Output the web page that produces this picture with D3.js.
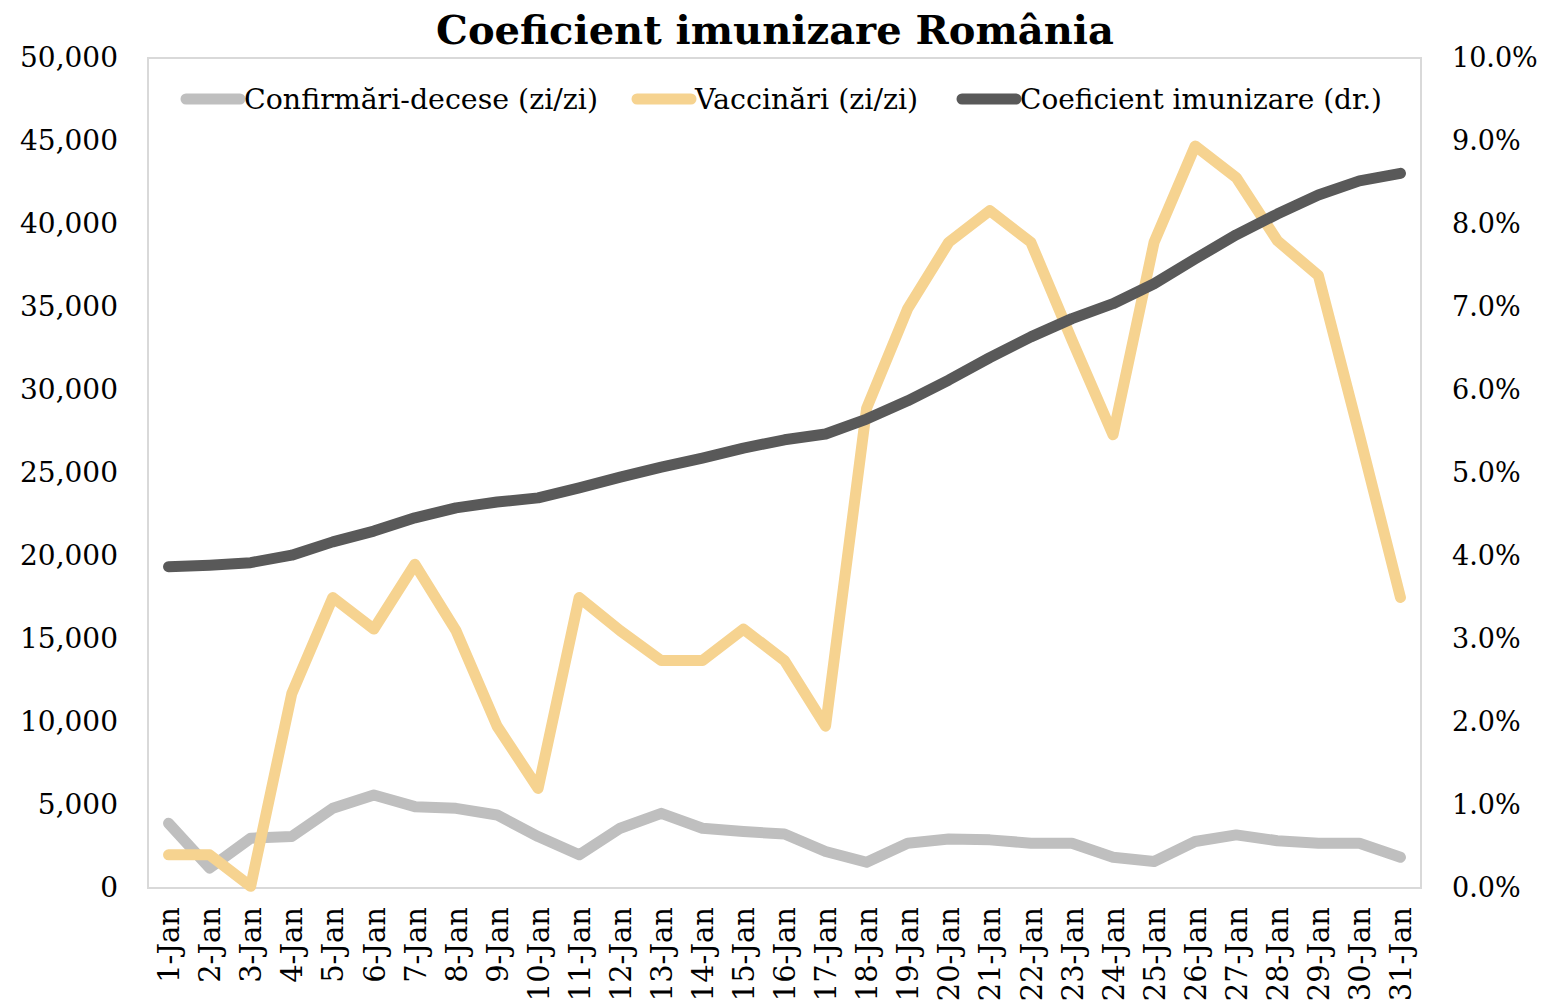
<!DOCTYPE html>
<html>
<head>
<meta charset="utf-8">
<script src="https://cdn.jsdelivr.net/npm/d3@7"></script>
<style>
  body { margin: 0; background: #fff; }
  svg text { font-family: "DejaVu Serif", "Liberation Serif", serif; fill: #000; }
</style>
</head>
<body>
<svg id="chart" width="1543" height="1003"></svg>
<script>
// categories
var days = [];
for (var d = 1; d <= 31; d++) days.push(d + "-Jan");

// series values
var confirmari = [3900, 1200, 3000, 3100, 4800, 5600, 4900, 4800, 4400, 3100,
                  2000, 3600, 4500, 3600, 3400, 3250, 2200, 1550, 2700, 2950,
                  2900, 2700, 2700, 1850, 1600, 2800, 3200, 2850, 2700, 2700, 1850];
var vaccinari = [2000, 2000, 100, 11700, 17500, 15600, 19500, 15500, 9750, 6000,
                 17500, 15500, 13700, 13700, 15600, 13700, 9750, 28900, 34900, 38900,
                 40800, 38900, 33000, 27300, 38900, 44700, 42800, 39000, 36900, 27300, 17500];
var coeficient = [0.0387, 0.0389, 0.0392, 0.0401, 0.0417, 0.0430, 0.0446, 0.0458, 0.0465, 0.0470,
                  0.0482, 0.0495, 0.0507, 0.0518, 0.0530, 0.0540, 0.0547, 0.0565, 0.0587, 0.0612,
                  0.0639, 0.0664, 0.0686, 0.0704, 0.0728, 0.0758, 0.0787, 0.0812, 0.0835, 0.0852, 0.0861];

// tick labels
var leftTicks = [0, 5000, 10000, 15000, 20000, 25000, 30000, 35000, 40000, 45000, 50000];
var rightTicks = [0, 0.01, 0.02, 0.03, 0.04, 0.05, 0.06, 0.07, 0.08, 0.09, 0.10];

var seriesNames = ["Confirmări-decese (zi/zi)", "Vaccinări (zi/zi)", "Coeficient imunizare (dr.)"];
var seriesColors = ["#bfbfbf", "#f6d390", "#595959"];

var margin = {left: 148, right: 122, top: 58, bottom: 115};
var W = 1543, H = 1003;
var innerW = W - margin.left - margin.right;
var innerH = H - margin.top - margin.bottom;

var svg = d3.select("#chart");

var x = d3.scalePoint().domain(days).range([0, innerW]).padding(0.5);
var yL = d3.scaleLinear().domain([0, 50000]).range([innerH, 0]);
var yR = d3.scaleLinear().domain([0, 0.10]).range([innerH, 0]);

var g = svg.append("g").attr("transform", "translate(" + margin.left + "," + margin.top + ")");

// plot border
g.append("rect")
  .attr("x", 0).attr("y", 0)
  .attr("width", innerW).attr("height", innerH)
  .attr("fill", "none").attr("stroke", "#d9d9d9").attr("stroke-width", 2);

// axes
var fmtL = d3.format(",");
var fmtR = d3.format(".1%");

var axL = g.append("g")
  .call(d3.axisLeft(yL).tickValues(leftTicks).tickFormat(fmtL).tickSize(0).tickPadding(30));
axL.select(".domain").remove();
axL.selectAll("text").style("font-size", "28px").attr("dy", "0.32em");

var axR = g.append("g").attr("transform", "translate(" + innerW + ",0)")
  .call(d3.axisRight(yR).tickValues(rightTicks).tickFormat(fmtR).tickSize(0).tickPadding(31));
axR.select(".domain").remove();
axR.selectAll("text").style("font-size", "27px").attr("dy", "0.32em");

var axB = g.append("g").attr("transform", "translate(0," + innerH + ")")
  .call(d3.axisBottom(x).tickSize(0).tickPadding(0));
axB.select(".domain").remove();
axB.selectAll("text")
  .style("font-size", "29px")
  .attr("text-anchor", "end")
  .attr("transform", "rotate(-90)")
  .attr("x", -19)
  .attr("y", 0)
  .attr("dy", "0.35em");

// lines
var lineL = d3.line().x(function(d, i) { return x(days[i]); }).y(function(d) { return yL(d); });
var lineR = d3.line().x(function(d, i) { return x(days[i]); }).y(function(d) { return yR(d); });

var allSeries = [
  {values: confirmari, gen: lineL, color: seriesColors[0]},
  {values: vaccinari, gen: lineL, color: seriesColors[1]},
  {values: coeficient, gen: lineR, color: seriesColors[2]}
];

g.selectAll("path.series")
  .data(allSeries)
  .enter()
  .append("path")
  .attr("class", "series")
  .attr("d", function(s) { return s.gen(s.values); })
  .attr("fill", "none")
  .attr("stroke", function(s) { return s.color; })
  .attr("stroke-width", 11)
  .attr("stroke-linejoin", "round")
  .attr("stroke-linecap", "round");

// legend
var legendX = [186, 637, 962];
var legendW = [354, 226, 362];
var leg = svg.append("g").attr("transform", "translate(0,99)");
var items = leg.selectAll("g").data(seriesNames).enter().append("g")
  .attr("transform", function(d, i) { return "translate(" + legendX[i] + ",0)"; });
items.append("line")
  .attr("x1", 0).attr("x2", 54).attr("y1", 0).attr("y2", 0)
  .attr("stroke", function(d, i) { return seriesColors[i]; })
  .attr("stroke-width", 11)
  .attr("stroke-linecap", "round");
items.append("text")
  .attr("x", 58).attr("y", 0).attr("dy", "0.35em")
  .style("font-size", "28.5px")
  .text(function(d) { return d; })
  .each(function(d, i) {
    // keep each entry within the width it has in the picture
    var len = this.getComputedTextLength();
    if (len > legendW[i]) d3.select(this).attr("textLength", legendW[i]).attr("lengthAdjust", "spacingAndGlyphs");
  });

// title
svg.append("text")
  .attr("x", 775).attr("y", 44)
  .attr("text-anchor", "middle")
  .style("font-size", "40px")
  .style("font-weight", "bold")
  .text("Coeficient imunizare România");
</script>
</body>
</html>
